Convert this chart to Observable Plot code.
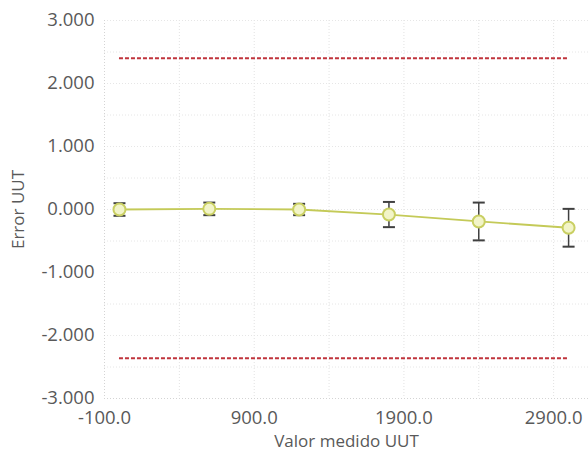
<!DOCTYPE html>
<html>
<head>
<meta charset="utf-8">
<script src="https://cdn.jsdelivr.net/npm/d3@7"></script>
<script src="https://cdn.jsdelivr.net/npm/@observablehq/plot@0.6"></script>
<style>
  html, body { margin: 0; padding: 0; background: #fff; }
  #chart svg { display: block; }
  #chart svg g[aria-label="y-axis tick label"] text,
  #chart svg g[aria-label="x-axis tick label"] text { font-size: 18.5px; }
  #chart svg g[aria-label="y-axis label"] text,
  #chart svg g[aria-label="x-axis label"] text { font-size: 17px; }
</style>
</head>
<body>
<div id="chart"></div>
<script>
// Data
const valorMedido = [0, 600, 1200, 1800, 2400, 3000];
const errorUUT = [0.00, 0.01, 0.00, -0.08, -0.19, -0.29];
const incertidumbre = [0.10, 0.10, 0.09, 0.20, 0.30, 0.30];
const limiteSuperior = 2.4;
const limiteInferior = -2.36;
const xTicks = [-100, 900, 1900, 2900];
const yTicks = [-3, -2, -1, 0, 1, 2, 3];

const data = valorMedido.map((x, i) => ({
  x, y: errorUUT[i], lo: errorUUT[i] - incertidumbre[i], hi: errorUUT[i] + incertidumbre[i]
}));
const limits = [
  {x1: valorMedido[0], x2: valorMedido[valorMedido.length - 1], y: limiteSuperior},
  {x1: valorMedido[0], x2: valorMedido[valorMedido.length - 1], y: limiteInferior}
];

const cap = {
  draw(context, size) {
    const w = 6;
    context.moveTo(-w, 0);
    context.lineTo(w, 0);
  }
};

const chart = Plot.plot({
  width: 588,
  height: 457,
  marginLeft: 104,
  marginRight: 0,
  marginTop: 20,
  marginBottom: 59,
  style: {fontFamily: "'Open Sans', sans-serif", color: "#595959", background: "#fff"},
  x: {domain: [-100, 3133], ticks: xTicks, tickFormat: d => d.toFixed(1)},
  y: {domain: [-3, 3], ticks: yTicks, tickFormat: d => d.toFixed(3)},
  marks: [
    Plot.gridX([-100, 400, 900, 1400, 1900, 2400, 2900], {stroke: "#e2e2e2", strokeOpacity: 1, strokeDasharray: "1,2"}),
    Plot.gridY([-3, -2.5, -2, -1.5, -1, -0.5, 0, 0.5, 1, 1.5, 2, 2.5, 3], {stroke: "#e6e6e6", strokeOpacity: 1, strokeDasharray: "1,2"}),
    Plot.ruleX([-100], {stroke: "#d4d4d4", strokeDasharray: "1,2"}),
    Plot.ruleY([-3], {stroke: "#d4d4d4", strokeDasharray: "1,2"}),
    Plot.axisY({ticks: yTicks, tickFormat: d => d.toFixed(3), tickSize: 0, tickPadding: 10,
      label: "Error UUT", labelAnchor: "center", labelArrow: "none", labelOffset: 93}),
    Plot.axisX({ticks: xTicks, tickFormat: d => d.toFixed(1), tickSize: 0, tickPadding: 12,
      label: "Valor medido UUT", labelAnchor: "center", labelArrow: "none", labelOffset: 48}),
    Plot.ruleY(limits, {x1: "x1", x2: "x2", y: "y", stroke: "#c0343c", strokeWidth: 2, strokeDasharray: "4,2"}),
    Plot.ruleX(data, {x: "x", y1: "lo", y2: "hi", stroke: "#404040", strokeWidth: 1.5}),
    Plot.dot(data, {x: "x", y: "lo", symbol: cap, stroke: "#404040", strokeWidth: 2, r: 6}),
    Plot.dot(data, {x: "x", y: "hi", symbol: cap, stroke: "#404040", strokeWidth: 2, r: 6}),
    Plot.line(data, {x: "x", y: "y", stroke: "#c4ca58", strokeWidth: 1.8}),
    Plot.dot(data, {x: "x", y: "y", r: 6, fill: "#f2f4c8", stroke: "#c9cf62", strokeWidth: 2})
  ]
});
document.getElementById("chart").appendChild(chart);
</script>
</body>
</html>
